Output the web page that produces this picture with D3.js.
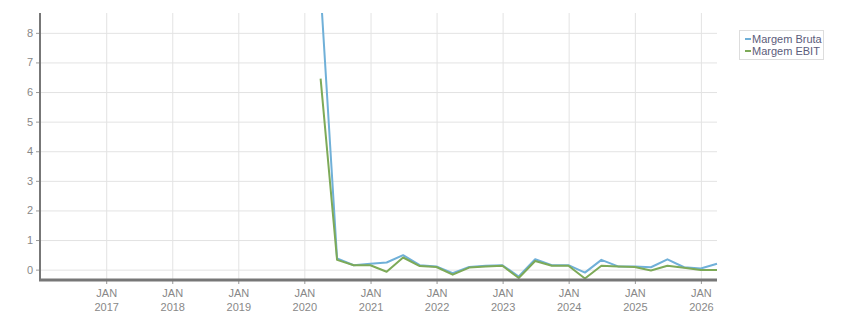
<!DOCTYPE html>
<html>
<head>
<meta charset="utf-8">
<script src="https://cdn.jsdelivr.net/npm/d3@7"></script>
<style>
body { margin: 0; background: #fff; }
svg { font-family: "Liberation Sans", Arial, sans-serif; }
.grid line { stroke: #e3e3e3; stroke-width: 1; }
.grid path { display: none; }
.tick text { fill: #888; font-size: 11px; }
</style>
</head>
<body>
<svg id="chart"></svg>
<script>
// trimestres (fim de trimestre)
const dates = [
    '2020-03-31', '2020-06-30', '2020-09-30', '2020-12-31',
    '2021-03-31', '2021-06-30', '2021-09-30', '2021-12-31',
    '2022-03-31', '2022-06-30', '2022-09-30', '2022-12-31',
    '2023-03-31', '2023-06-30', '2023-09-30', '2023-12-31',
    '2024-03-31', '2024-06-30', '2024-09-30', '2024-12-31',
    '2025-03-31', '2025-06-30', '2025-09-30', '2025-12-31',
    '2026-03-31'
];
const margemBruta = [
    9.45, 0.38, 0.15, 0.20,
    0.24, 0.49, 0.15, 0.11,
    -0.12, 0.09, 0.13, 0.15,
    -0.23, 0.35, 0.15, 0.15,
    -0.10, 0.33, 0.11, 0.11,
    0.08, 0.35, 0.08, 0.04,
    0.20
];
const margemEbit = [
    6.45, 0.33, 0.15, 0.15,
    -0.07, 0.41, 0.12, 0.09,
    -0.17, 0.07, 0.11, 0.13,
    -0.28, 0.29, 0.13, 0.13,
    -0.30, 0.13, 0.11, 0.09,
    -0.03, 0.13, 0.06, -0.01,
    -0.01
];
const seriesNames = ['Margem Bruta', 'Margem EBIT'];
const seriesColors = ['#70b0d8', '#7daa58'];
const yTicks = [0, 1, 2, 3, 4, 5, 6, 7, 8];
const xTickYears = [2017, 2018, 2019, 2020, 2021, 2022, 2023, 2024, 2025, 2026];

const width = 851;
const height = 313;
const margin = { top: 13, right: 134, bottom: 33, left: 40 };
const innerW = width - margin.left - margin.right;
const innerH = height - margin.top - margin.bottom;

const parse = d3.timeParse('%Y-%m-%d');
const xDates = dates.map(parse);

const svg = d3.select('#chart')
    .attr('width', width)
    .attr('height', height);

const g = svg.append('g')
    .attr('transform', `translate(${margin.left},${margin.top})`);

const x = d3.scaleTime()
    .domain([new Date(2016, 0, 1), parse('2026-03-31')])
    .range([0, innerW]);

const y = d3.scaleLinear()
    .domain([-0.35, 8.67])
    .range([innerH, 0]);

// grade
g.append('g')
    .attr('class', 'grid')
    .attr('transform', `translate(0,${innerH})`)
    .call(d3.axisBottom(x)
        .tickValues(xTickYears.map(yr => new Date(yr, 0, 1)))
        .tickSize(-innerH)
        .tickFormat(''));

g.append('g')
    .attr('class', 'grid')
    .call(d3.axisLeft(y)
        .tickValues(yTicks)
        .tickSize(-innerW)
        .tickFormat(''));

// linhas
const clip = svg.append('clipPath').attr('id', 'clip')
    .append('rect')
    .attr('width', innerW + 2)
    .attr('height', innerH);

const plot = g.append('g').attr('clip-path', 'url(#clip)');

const line = d3.line()
    .x((d, i) => x(xDates[i]))
    .y(d => y(d));

[margemBruta, margemEbit].forEach((vals, k) => {
    plot.append('path')
        .datum(vals)
        .attr('fill', 'none')
        .attr('stroke', seriesColors[k])
        .attr('stroke-width', 2)
        .attr('stroke-linejoin', 'round')
        .attr('d', line);
});

// eixo Y
const yAxis = g.append('g')
    .call(d3.axisLeft(y)
        .tickValues(yTicks)
        .tickSize(4)
        .tickPadding(3)
        .tickFormat(d3.format('d')));
yAxis.select('.domain').remove();
yAxis.selectAll('.tick line').attr('stroke', '#999');
g.append('line')
    .attr('x1', 0).attr('x2', 0)
    .attr('y1', 0).attr('y2', innerH)
    .attr('stroke', '#777')
    .attr('stroke-width', 2);

// eixo X
const xAxis = g.append('g')
    .attr('transform', `translate(0,${innerH})`)
    .call(d3.axisBottom(x)
        .tickValues(xTickYears.map(yr => new Date(yr, 0, 1)))
        .tickSize(4)
        .tickFormat(''));
xAxis.select('.domain').remove();
xAxis.selectAll('.tick line').attr('stroke', '#999');
xAxis.selectAll('.tick').append('text')
    .attr('y', 17)
    .attr('text-anchor', 'middle')
    .text('JAN');
xAxis.selectAll('.tick').append('text')
    .attr('y', 31)
    .attr('text-anchor', 'middle')
    .text(d => d.getFullYear());
g.append('line')
    .attr('x1', -1).attr('x2', innerW)
    .attr('y1', innerH).attr('y2', innerH)
    .attr('stroke', '#777')
    .attr('stroke-width', 3);

// legenda
const legend = svg.append('g')
    .attr('transform', 'translate(739,30)');
legend.append('rect')
    .attr('x', 0.5).attr('y', 0.5)
    .attr('width', 84).attr('height', 29)
    .attr('fill', '#fff')
    .attr('stroke', '#ddd');
seriesNames.forEach((name, i) => {
    const row = legend.append('g')
        .attr('transform', `translate(6,${9 + i * 12})`);
    row.append('line')
        .attr('x1', 0).attr('x2', 6)
        .attr('stroke', seriesColors[i])
        .attr('stroke-width', 2);
    row.append('text')
        .attr('x', 7)
        .attr('dy', '0.35em')
        .attr('font-family', 'Liberation Sans, Arial, sans-serif')
        .attr('font-size', '11px')
        .attr('fill', '#5c5c7a')
        .text(name);
});
</script>
</body>
</html>
